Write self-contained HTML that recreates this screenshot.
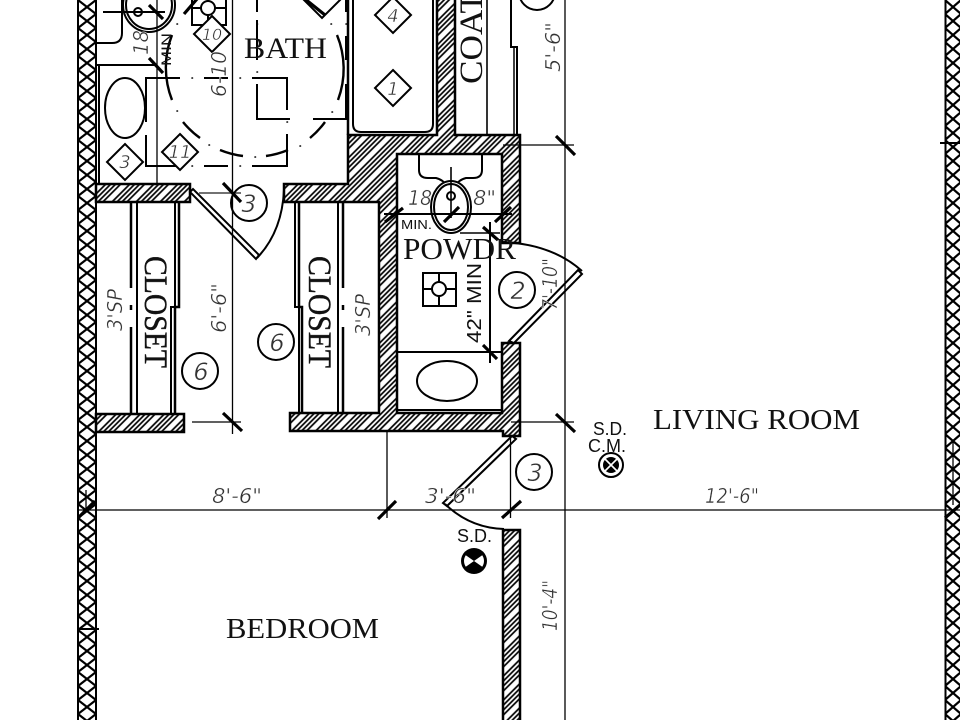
<!DOCTYPE html>
<html><head><meta charset="utf-8"><style>
html,body{margin:0;padding:0;background:#fff;width:960px;height:720px;overflow:hidden}
svg{display:block}
.s{font-family:"Liberation Serif",serif;fill:#111}
.a{font-family:"Liberation Sans",sans-serif;fill:#111}
.h{font-family:"DejaVu Sans","Liberation Sans",sans-serif;font-style:italic;fill:#333;font-weight:normal;stroke:#fff;stroke-width:.45;paint-order:normal}
</style></head><body>
<svg width="960" height="720" viewBox="0 0 960 720" xmlns="http://www.w3.org/2000/svg">
<defs>
<pattern id="x" width="18" height="14" patternUnits="userSpaceOnUse" x="78" y="0">
<path d="M0 0L18 14M18 0L0 14" stroke="#000" stroke-width="2.2" fill="none"/>
</pattern>
<pattern id="x2" width="16" height="14" patternUnits="userSpaceOnUse" x="945" y="0">
<path d="M0 0L16 14M16 0L0 14" stroke="#000" stroke-width="2.2" fill="none"/>
</pattern>
<pattern id="d" width="17" height="17" patternUnits="userSpaceOnUse" patternTransform="rotate(45)">
<path d="M1 0V17M4.500 0V17M8 0V17M11.500 0V17" stroke="#000" stroke-width="1.7" fill="none"/>
</pattern>
</defs>
<rect width="960" height="720" fill="#fff"/>

<!-- outer walls -->
<rect x="78" y="-2" width="18" height="724" fill="url(#x)" stroke="#000" stroke-width="2"/>
<rect x="945.500" y="-2" width="20" height="724" fill="url(#x2)" stroke="#000" stroke-width="2"/>

<!-- hatched walls -->
<g fill="url(#d)" stroke="#000" stroke-width="2.5">
<path d="M284 184H348V135H437V-3H455V135H520V243H502V154H397V413H502V343H520V436H503V431H290V413H379V202H284Z"/>
<rect x="96" y="184" width="94" height="18"/>
<rect x="96" y="414" width="88" height="18"/>
<rect x="503" y="530" width="17" height="195"/>
</g>

<!-- closets -->
<g stroke="#000" fill="none">
<path d="M131 202V288M131 327V413M343 202V288M343 327V413" stroke-width="2.5"/>
<path d="M137 202V413M338 202V413" stroke-width="2"/>
<path d="M131 305V310M343 305V310" stroke-width="2.5"/>
<path d="M179 202V307H175V413" stroke-width="2.5"/>
<path d="M175 202V307H171V413" stroke-width="2"/>
<path d="M295 202V307H299V413" stroke-width="2"/>
<path d="M299 202V307H302V413" stroke-width="2.5"/>
</g>

<!-- bath left fixtures -->
<g stroke="#000" fill="none" stroke-width="2">
<path d="M96 43H112Q122 43 122 33V-2"/>
<path d="M96 65H157"/>
<path d="M99 65V184"/>
<ellipse cx="125" cy="108" rx="20" ry="30"/>
<ellipse cx="149" cy="5" rx="26" ry="27"/>
<ellipse cx="149" cy="5" rx="23" ry="24"/>
<circle cx="138" cy="12" r="4"/>
<path d="M103 12H165"/>
<path d="M192 -2V25H226V-2M192 8H226M208 -2V25"/>
<circle cx="208" cy="8" r="7" fill="#fff"/>
<path d="M146 122V78H180M146 135V166H180M204 166H228M252 78H287V110M287 134V166H252M204 78H228"/>
<path d="M257 -2V12M257 20V60M257 84V119H290M313 119H346V84M346 60V36M346 12V-2"/>
<path d="M348 -2V135" stroke-width="2.5"/>
<g stroke-width="2.4">
<path d="M172 35A89 89 0 0 0 172 100"/>
<path d="M183 122A89 89 0 0 0 200 138"/>
<path d="M220 150A89 89 0 0 0 243 156"/>
<path d="M266 156A89 89 0 0 0 288 150"/>
<path d="M310 138A89 89 0 0 0 325 122"/>
<path d="M338 100A89 89 0 0 0 337 35"/>
</g>
<g stroke-width="1.6" stroke-linecap="round">
<path d="M177 111h.5M209 145h.5M255 157h.5M300 146h.5M332 112h.5M192 78h.5M240 78h.5M192 166h.5M240 166h.5M287 122h.5M177 24h.5M257 24h.5M331 24h.5M257 72h.5M346 24h.5"/>
</g>
</g>
<g fill="#fff" stroke="#000" stroke-width="2">
<path d="M125 144L143 162L125 180L107 162Z"/>
<path d="M180 134L198 152L180 170L162 152Z"/>
<path d="M212 16L230 34L212 52L194 34Z"/>
<path d="M393 -3L411 15L393 33L375 15Z"/>
<path d="M393 70L411 88L393 106L375 88Z"/>
<path d="M322 -18L340 0L322 18L304 0Z"/>
</g>

<!-- tub -->
<path d="M353 -3V124Q353 132 361 132H425Q433 132 433 124V-3" fill="none" stroke="#000" stroke-width="2"/>

<!-- coat -->
<g stroke="#000" fill="none">
<path d="M487 -2V135" stroke-width="1.6"/>
<path d="M511 -2V47H517V135" stroke-width="2"/>
<path d="M514 47V135" stroke-width="1.5"/>
</g>
<circle cx="537" cy="-8" r="18" fill="#fff" stroke="#000" stroke-width="2"/>

<!-- powder fixtures -->
<g stroke="#000" fill="none" stroke-width="2">
<path d="M419 154V170Q419 178 428 178H436Q444 180 446 186M482 154V170Q482 178 473 178H466Q458 180 456 186"/>
<ellipse cx="451" cy="207" rx="20" ry="26" fill="#fff"/>
<ellipse cx="451" cy="207" rx="17" ry="23"/>
<circle cx="451" cy="196" r="4"/>
<path d="M451 167V218" stroke-width="1.6"/>
<path d="M460 233H500" stroke-width="1.4"/>
<rect x="423" y="273" width="33" height="33"/>
<path d="M423 289H456M439 273V306"/>
<circle cx="439" cy="289" r="7" fill="#fff"/>
<path d="M397 352H502"/>
<ellipse cx="447" cy="381" rx="30" ry="20"/>
<path d="M397 410H502"/>
</g>

<!-- doors -->
<g fill="#fff" stroke="#000" stroke-width="2">
<path d="M190 192L193 189L259 255L256 259Z"/>
<path d="M509 341L578 270L582 274L514 343Z"/>
<path d="M512 436L443 503L447 506L516 439Z"/>
</g>
<g fill="none" stroke="#000" stroke-width="2">
<path d="M257 258Q282 232 284 190"/>
<path d="M582 271Q552 244 502 242"/>
<path d="M445 504Q470 528 504 529"/>
</g>

<!-- dimension lines -->
<g stroke="#000" fill="none" stroke-width="1.3">
<path d="M78 510H960"/>
<path d="M565 -2V722"/>
<path d="M232.500 -2V434"/>
<path d="M157 -2V184"/>
<path d="M192 422H241"/>
<path d="M199 193H241" stroke="#444" stroke-width="1.5"/>
<path d="M503 145H574"/>
<path d="M511 422H574"/>
<path d="M387 431V518"/>
<path d="M510.500 437V518"/>
<path d="M86 490V510"/>
<path d="M953 440V505"/>
</g>
<g stroke="#000" fill="none" stroke-width="2">
<path d="M384 214H512"/>
<path d="M490 222V363"/>
<path d="M77 629H99"/>
<path d="M940 143H960"/>
</g>
<g stroke="#000" fill="none" stroke-width="3.2">
<path d="M556 136L575 155"/>
<path d="M556 414L575 432"/>
<path d="M223 413L242 431"/>
<path d="M223 183L241 202"/>
<path d="M378 519L396 501"/>
<path d="M502 518L521 501"/>
<path d="M79 517L95 501"/>
<path d="M945 518L960 505"/>
<path d="M149 58L163 73"/>
<path d="M149 5L163 19"/>
<path d="M184 14L197 -1"/>
<path d="M305 -1L325 15"/>
<path d="M385 222L403 208"/>
<path d="M444 222L459 207"/>
<path d="M495 222L511 207"/>
<path d="M483 227L498 240"/>
<path d="M483 345L497 359"/>
</g>

<!-- circles -->
<g fill="#fff" stroke="#000" stroke-width="2">
<circle cx="249" cy="203" r="18" fill="none"/>
<circle cx="200" cy="371" r="18"/>
<circle cx="276" cy="342" r="18"/>
<circle cx="517" cy="290" r="18"/>
<circle cx="534" cy="472" r="18"/>
</g>
<g class="h" font-size="24" text-anchor="middle">
<text x="249" y="212">3</text>
<text x="201" y="380">6</text>
<text x="277" y="351">6</text>
<text x="518" y="299">2</text>
<text x="535" y="481">3</text>
</g>
<g class="h" font-size="18" text-anchor="middle">
<text x="125" y="168">3</text>
<text x="180" y="158">11</text>
<text x="212" y="40" font-size="16">10</text>
<text x="393" y="22">4</text>
<text x="393" y="95">1</text>
</g>

<!-- serif labels -->
<text class="s" x="244" y="58" font-size="30" textLength="83" lengthAdjust="spacingAndGlyphs">BATH</text>
<text class="s" x="403" y="259" font-size="31" textLength="113" lengthAdjust="spacingAndGlyphs">POWDR</text>
<text class="s" x="653" y="429" font-size="29" textLength="207" lengthAdjust="spacingAndGlyphs">LIVING ROOM</text>
<text class="s" x="226" y="638" font-size="29" textLength="153" lengthAdjust="spacingAndGlyphs">BEDROOM</text>
<text class="s" transform="translate(145,256) rotate(90)" font-size="33" textLength="112" lengthAdjust="spacingAndGlyphs" stroke="#111" stroke-width=".4">CLOSET</text>
<text class="s" transform="translate(309,256) rotate(90)" font-size="33" textLength="112" lengthAdjust="spacingAndGlyphs" stroke="#111" stroke-width=".4">CLOSET</text>
<text class="s" transform="translate(482,84) rotate(-90)" font-size="33" textLength="92" lengthAdjust="spacingAndGlyphs">COAT</text>

<!-- sans labels -->
<text class="a" x="593" y="435" font-size="18" textLength="34" lengthAdjust="spacingAndGlyphs">S.D.</text>
<text class="a" x="588" y="452" font-size="18" textLength="38" lengthAdjust="spacingAndGlyphs">C.M.</text>
<text class="a" x="457" y="542" font-size="18" textLength="35" lengthAdjust="spacingAndGlyphs">S.D.</text>
<text class="a" x="401" y="229" font-size="13" textLength="31" lengthAdjust="spacingAndGlyphs" fill="#333">MIN.</text>
<text class="a" transform="translate(481,343) rotate(-90)" font-size="20" textLength="80" lengthAdjust="spacingAndGlyphs">42" MIN</text>
<text class="a" transform="translate(171,66) rotate(-90)" font-size="14" textLength="33" lengthAdjust="spacingAndGlyphs" fill="#333">MIN</text>

<!-- handwritten dims -->
<g class="h" font-size="20">
<text x="212" y="503" textLength="50" lengthAdjust="spacingAndGlyphs">8'-6"</text>
<text x="425" y="503" textLength="51" lengthAdjust="spacingAndGlyphs">3'-6"</text>
<text x="705" y="503" textLength="54" lengthAdjust="spacingAndGlyphs">12'-6"</text>
<text x="408" y="205" textLength="24" lengthAdjust="spacingAndGlyphs">18</text>
<text x="473" y="205" textLength="23" lengthAdjust="spacingAndGlyphs">8"</text>
<text transform="translate(557,631) rotate(-90)" textLength="51" lengthAdjust="spacingAndGlyphs">10'-4"</text>
<text transform="translate(560,72) rotate(-90)" textLength="50" lengthAdjust="spacingAndGlyphs">5'-6"</text>
<text transform="translate(226,333) rotate(-90)" textLength="50" lengthAdjust="spacingAndGlyphs">6'-6"</text>
<text transform="translate(226,97) rotate(-90)" textLength="46" lengthAdjust="spacingAndGlyphs">6-10</text>
<text transform="translate(148,55) rotate(-90)" textLength="25" lengthAdjust="spacingAndGlyphs">18</text>
<text transform="translate(122,331) rotate(-90)" textLength="42" lengthAdjust="spacingAndGlyphs">3'SP</text>
<text transform="translate(370,336) rotate(-90)" textLength="42" lengthAdjust="spacingAndGlyphs">3'SP</text>
<text transform="translate(557,310) rotate(-90)" textLength="52" lengthAdjust="spacingAndGlyphs">7'-10"</text>
</g>

<!-- smoke detectors -->
<circle cx="611" cy="465" r="12" fill="#fff" stroke="#000" stroke-width="2"/>
<circle cx="611" cy="465" r="8" fill="#000"/>
<path d="M605 459L617 471M617 459L605 471" stroke="#fff" stroke-width="1.6"/>
<circle cx="474" cy="561" r="13" fill="#000"/>
<path d="M474 561L465.800 555.300A10 10 0 0 0 465.800 566.700ZM474 561L482.200 555.300A10 10 0 0 1 482.200 566.700Z" fill="#fff"/>
</svg>
</body></html>
